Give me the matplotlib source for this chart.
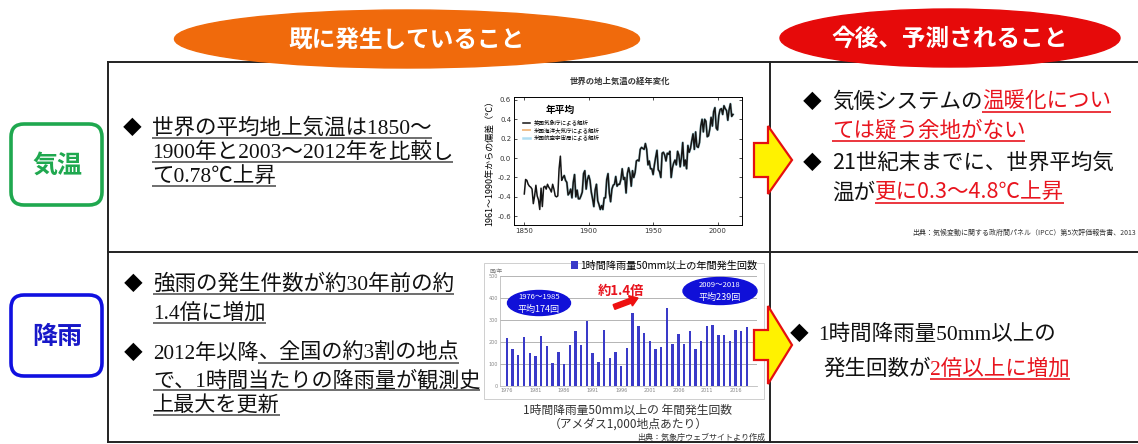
import matplotlib
matplotlib.use("Agg")
import matplotlib.pyplot as plt
from matplotlib.patches import Ellipse, FancyBboxPatch, Polygon, Rectangle, FancyArrow

W, H = 1138, 444

# global surface temperature anomaly (vs 1961-1990)
temp_years = list(range(1850, 2013))
temp_anom = [
    -0.37, -0.22, -0.23, -0.27, -0.29, -0.30, -0.32, -0.47, -0.39, -0.28,
    -0.39, -0.43, -0.53, -0.31, -0.50, -0.30, -0.29, -0.32, -0.27, -0.30,
    -0.32, -0.35, -0.27, -0.32, -0.39, -0.40, -0.39, -0.11, 0.02, -0.23,
    -0.20, -0.18, -0.23, -0.25, -0.38, -0.36, -0.32, -0.41, -0.25, -0.17,
    -0.40, -0.33, -0.42, -0.42, -0.39, -0.35, -0.16, -0.13, -0.32, -0.22,
    -0.18, -0.23, -0.35, -0.42, -0.50, -0.33, -0.27, -0.44, -0.48, -0.53,
    -0.49, -0.53, -0.41, -0.41, -0.22, -0.16, -0.36, -0.45, -0.32, -0.28,
    -0.27, -0.19, -0.29, -0.27, -0.27, -0.22, -0.11, -0.22, -0.20, -0.36,
    -0.16, -0.10, -0.16, -0.29, -0.13, -0.20, -0.15, -0.03, -0.02, -0.03,
    0.09, 0.11, 0.10, 0.09, 0.15, 0.09, -0.07, -0.03, -0.11, -0.11,
    -0.17, -0.07, 0.01, 0.08, -0.12, -0.14, -0.20, 0.05, 0.06, 0.03,
    -0.03, 0.05, 0.04, 0.07, -0.20, -0.10, -0.05, -0.02, -0.07, 0.07,
    0.03, -0.09, 0.01, 0.16, -0.08, -0.02, -0.11, 0.13, 0.06, 0.10,
    0.18, 0.25, 0.09, 0.27, 0.12, 0.11, 0.16, 0.33, 0.40, 0.27,
    0.40, 0.38, 0.22, 0.23, 0.30, 0.42, 0.33, 0.48, 0.52, 0.31,
    0.29, 0.44, 0.50, 0.51, 0.45, 0.54, 0.51, 0.49, 0.39, 0.50,
    0.56, 0.43, 0.45,
]
temp_labels = ["英国気象庁による解析", "米国海洋大気庁による解析", "米国航空宇宙局による解析"]

# annual count of 50mm/h rainfall events (per 1,000 AMeDAS stations)
rain_years = list(range(1976, 2019))
rain_counts = [
    218, 166, 140, 221, 152, 137, 227, 184, 105, 154,
    99, 185, 250, 187, 294, 152, 108, 253, 126, 155,
    90, 175, 330, 271, 241, 203, 170, 179, 354, 190,
    235, 190, 251, 166, 206, 271, 279, 233, 233, 203,
    254, 248, 267,
]
rain_ticks = [1976, 1981, 1986, 1991, 1996, 2001, 2006, 2011, 2016]

SERIF = ['Liberation Serif', 'Noto Sans CJK JP']
SANS = ['Noto Sans CJK JP', 'DejaVu Sans']
RED = '#E8141E'

fig = plt.figure(figsize=(W / 100, H / 100), dpi=100)
bg = fig.add_axes([0, 0, 1, 1])
bg.set_xlim(0, W)
bg.set_ylim(H, 0)
bg.axis('off')
renderer = fig.canvas.get_renderer()


def rich(ax, x, y, parts, size=15.5, gap=4):
    # draw pieces of one line side by side, optionally underlined
    for txt, col, ul, fam in parts:
        t = ax.text(x, y, txt, fontsize=size, color=col, family=fam, va='baseline', ha='left')
        bb = t.get_window_extent(renderer).transformed(ax.transData.inverted())
        if ul:
            lc = '#555555' if col != RED else RED
            ax.plot([bb.x0, bb.x1], [y + gap, y + gap], color=lc, lw=1.2, solid_capstyle='butt')
        x = bb.x1


def bullet(ax, x, y):
    ax.text(x, y, "◆", fontsize=13.5, color='black', family=SANS, va='baseline', ha='left')


# table frame
lk = dict(color='#222222', lw=1.4)
bg.plot([108, W], [62, 62], **lk)
bg.plot([108, W], [252, 252], **lk)
bg.plot([108, W], [442, 442], **lk)
bg.plot([108, 108], [62, 442], **lk)
bg.plot([770, 770], [62, 442], **lk)

# header ellipses
bg.add_patch(Ellipse((407, 39), 465, 58, color='#F06A0C', zorder=5))
bg.text(407, 40, "既に発生していること", color='white', fontsize=17, weight='bold',
        family=SANS, ha='center', va='center', zorder=6)
bg.add_patch(Ellipse((950, 38), 340, 58, color='#E60A0A', zorder=5))
bg.text(950, 39, "今後、予測されること", color='white', fontsize=17, weight='bold',
        family=SANS, ha='center', va='center', zorder=6)

# row labels
bg.add_patch(FancyBboxPatch((11, 124), 91, 81, boxstyle="round,pad=0,rounding_size=13",
                            fc='white', ec='#1FA84F', lw=2.6))
bg.text(57, 166, "気温", color='#1FA84F', fontsize=18, weight='bold', family=SANS,
        ha='center', va='center')
bg.add_patch(FancyBboxPatch((11, 295), 91, 81, boxstyle="round,pad=0,rounding_size=13",
                            fc='white', ec='#1010E0', lw=2.6))
bg.text(57, 337, "降雨", color='#1818C8', fontsize=18, weight='bold', family=SANS,
        ha='center', va='center')

# left column text
K = '#111111'
bullet(bg, 123, 134)
rich(bg, 152, 134, [("世界の平均地上気温は1850～", K, True, SERIF)])
rich(bg, 152, 158, [("1900年と2003～2012年を比較し", K, True, SERIF)])
rich(bg, 152, 182, [("て0.78℃上昇", K, True, SERIF)])

bullet(bg, 124, 290)
rich(bg, 153, 290, [("強雨の発生件数が約30年前の約", K, True, SERIF)])
rich(bg, 153, 319, [("1.4倍に増加", K, True, SERIF)])
bullet(bg, 124, 359)
rich(bg, 153, 359, [("2012年以降", K, False, SERIF), ("、全国の約3割の地点", K, True, SERIF)], size=15.2)
rich(bg, 153, 386, [("で、1時間当たりの降雨量が観測史", K, True, SERIF)], size=15.2)
rich(bg, 153, 411, [("上最大を更新", K, True, SERIF)], size=15.2)

# right column text
bullet(bg, 803, 108)
rich(bg, 832, 108, [("気候システムの", K, False, SANS), ("温暖化につい", RED, True, SANS)])
rich(bg, 832, 137, [("ては疑う余地がない", RED, True, SANS)])
bullet(bg, 803, 169)
rich(bg, 832, 169, [("21世紀末までに、世界平均気", K, False, SANS)])
rich(bg, 832, 199, [("温が", K, False, SANS), ("更に0.3～4.8℃上昇", RED, True, SANS)])
bg.text(1136, 235, "出典：気候変動に関する政府間パネル（IPCC）第5次評価報告書、2013",
        fontsize=5, family=SANS, ha='right', va='baseline', color='#333333')

bullet(bg, 790, 340)
rich(bg, 818, 340, [("1時間降雨量50mm以上の", K, False, SERIF)])
rich(bg, 823, 375, [("発生回数が", K, False, SERIF), ("2倍以上に増加", RED, True, SERIF)])

# temperature inset
bg.text(620, 84, "世界の地上気温の経年変化", fontsize=6, weight='bold', family=SANS,
        ha='center', va='baseline', color='#333333')
ax1 = fig.add_axes([514 / W, (H - 225) / H, 228 / W, 128 / H])
i80 = temp_years.index(1880)
ax1.plot(temp_years[i80:], temp_anom[i80:], color='#E8923A', lw=1.4, alpha=0.6, label=temp_labels[1])
ax1.plot(temp_years[i80:], temp_anom[i80:], color='#7CC8EA', lw=1.8, alpha=0.6, label=temp_labels[2])
ax1.plot(temp_years, temp_anom, color='#151515', lw=1.1, label=temp_labels[0])
ax1.set_xlim(1842, 2019)
ax1.set_ylim(-0.69, 0.63)
ax1.set_xticks([1850, 1900, 1950, 2000])
ax1.set_yticks([-0.6, -0.4, -0.2, 0.0, 0.2, 0.4, 0.6])
ax1.set_yticklabels(["-0.6", "-0.4", "-0.2", "0.0", "0.2", "0.4", "0.6"])
ax1.tick_params(direction='in', top=True, right=True, labelsize=5, length=2.5, width=0.6,
                colors='#333333', pad=2)
for s in ax1.spines.values():
    s.set_linewidth(0.7)
ax1.set_ylabel("1961～1990年からの偏差（℃）", fontsize=6.5, family=SANS, labelpad=2)
ax1.text(0.14, 0.9, "年平均", transform=ax1.transAxes, fontsize=7, weight='bold', family=SANS,
         va='center')
h, l = ax1.get_legend_handles_labels()
ax1.legend([h[2], h[0], h[1]], [l[2], l[0], l[1]], loc='upper left', bbox_to_anchor=(0.03, 0.84),
           frameon=False, prop={'family': SANS, 'size': 4}, handlelength=1.2, labelspacing=0.3,
           borderaxespad=0)

# rainfall inset
bg.add_patch(Rectangle((484, 263), 280, 136, fill=False, ec='#C8C8C8', lw=0.6))
ax2 = fig.add_axes([500 / W, (H - 386) / H, 257 / W, 110 / H])
ax2.bar(rain_years, rain_counts, width=0.42, color='#3A3AC8', label="1時間降雨量50mm以上の年間発生回数",
        zorder=3)
ax2.set_xlim(1974.8, 2019.75)
ax2.set_ylim(0, 500)
ax2.set_yticks([0, 100, 200, 300, 400, 500])
ax2.set_xticks(rain_ticks)
ax2.grid(axis='y', color='#A8A8A8', lw=0.6, zorder=0)
ax2.tick_params(labelsize=3.5, colors='#888888', length=0, pad=1.5)
for s in ax2.spines.values():
    s.set_color('#BBBBBB')
    s.set_linewidth(0.6)
ax2.spines['top'].set_visible(False)
ax2.spines['right'].set_visible(False)
ax2.legend(loc='upper right', bbox_to_anchor=(1.0, 1.14), frameon=False,
           prop={'family': SANS, 'size': 7.3}, handlelength=0.7, handleheight=0.9,
           handletextpad=0.2, borderaxespad=0, borderpad=0)
bg.text(490, 271, "回/年", fontsize=4, family=SANS, color='#777777', ha='left', va='center')
bg.text(628, 414, "1時間降雨量50mm以上の 年間発生回数", fontsize=8.5, family=SANS,
        ha='center', va='baseline', color='#333333')
bg.text(628, 428, "（アメダス1,000地点あたり）", fontsize=8.5, family=SANS,
        ha='center', va='baseline', color='#333333')
bg.text(765, 440, "出典：気象庁ウェブサイトより作成", fontsize=5.8, family=SANS,
        ha='right', va='baseline', color='#333333')

# overlay annotations and arrows
fg = fig.add_axes([0, 0, 1, 1], zorder=10)
fg.set_xlim(0, W)
fg.set_ylim(H, 0)
fg.axis('off')
fg.patch.set_alpha(0)

fg.add_patch(Ellipse((539, 303), 63, 25, color='#1010D8'))
fg.text(539, 297, "1976～1985", fontsize=5.5, color='white', family=SANS, ha='center', va='center')
fg.text(539, 309, "平均174回", fontsize=6.5, color='white', family=SANS, ha='center', va='center')
fg.add_patch(Ellipse((720, 291), 74, 27, color='#1010D8'))
fg.text(720, 285, "2009～2018", fontsize=5.5, color='white', family=SANS, ha='center', va='center')
fg.text(720, 297, "平均239回", fontsize=6.5, color='white', family=SANS, ha='center', va='center')
fg.text(621, 291, "約1.4倍", fontsize=9.5, color=RED, weight='bold', family=SANS,
        ha='center', va='center')
fg.add_patch(FancyArrow(614, 307, 24, -9, width=5, head_width=11, head_length=8,
                        length_includes_head=True, color='#EE1010'))

for cy, bh, hh in [(160, 34, 68), (345, 30, 78)]:
    pts = [(754, cy - bh / 2), (768, cy - bh / 2), (768, cy - hh / 2), (792, cy),
           (768, cy + hh / 2), (768, cy + bh / 2), (754, cy + bh / 2)]
    fg.add_patch(Polygon(pts, closed=True, fc='#FFF200', ec='#E51010', lw=1.6))

fig.savefig('out.png', dpi=100)
